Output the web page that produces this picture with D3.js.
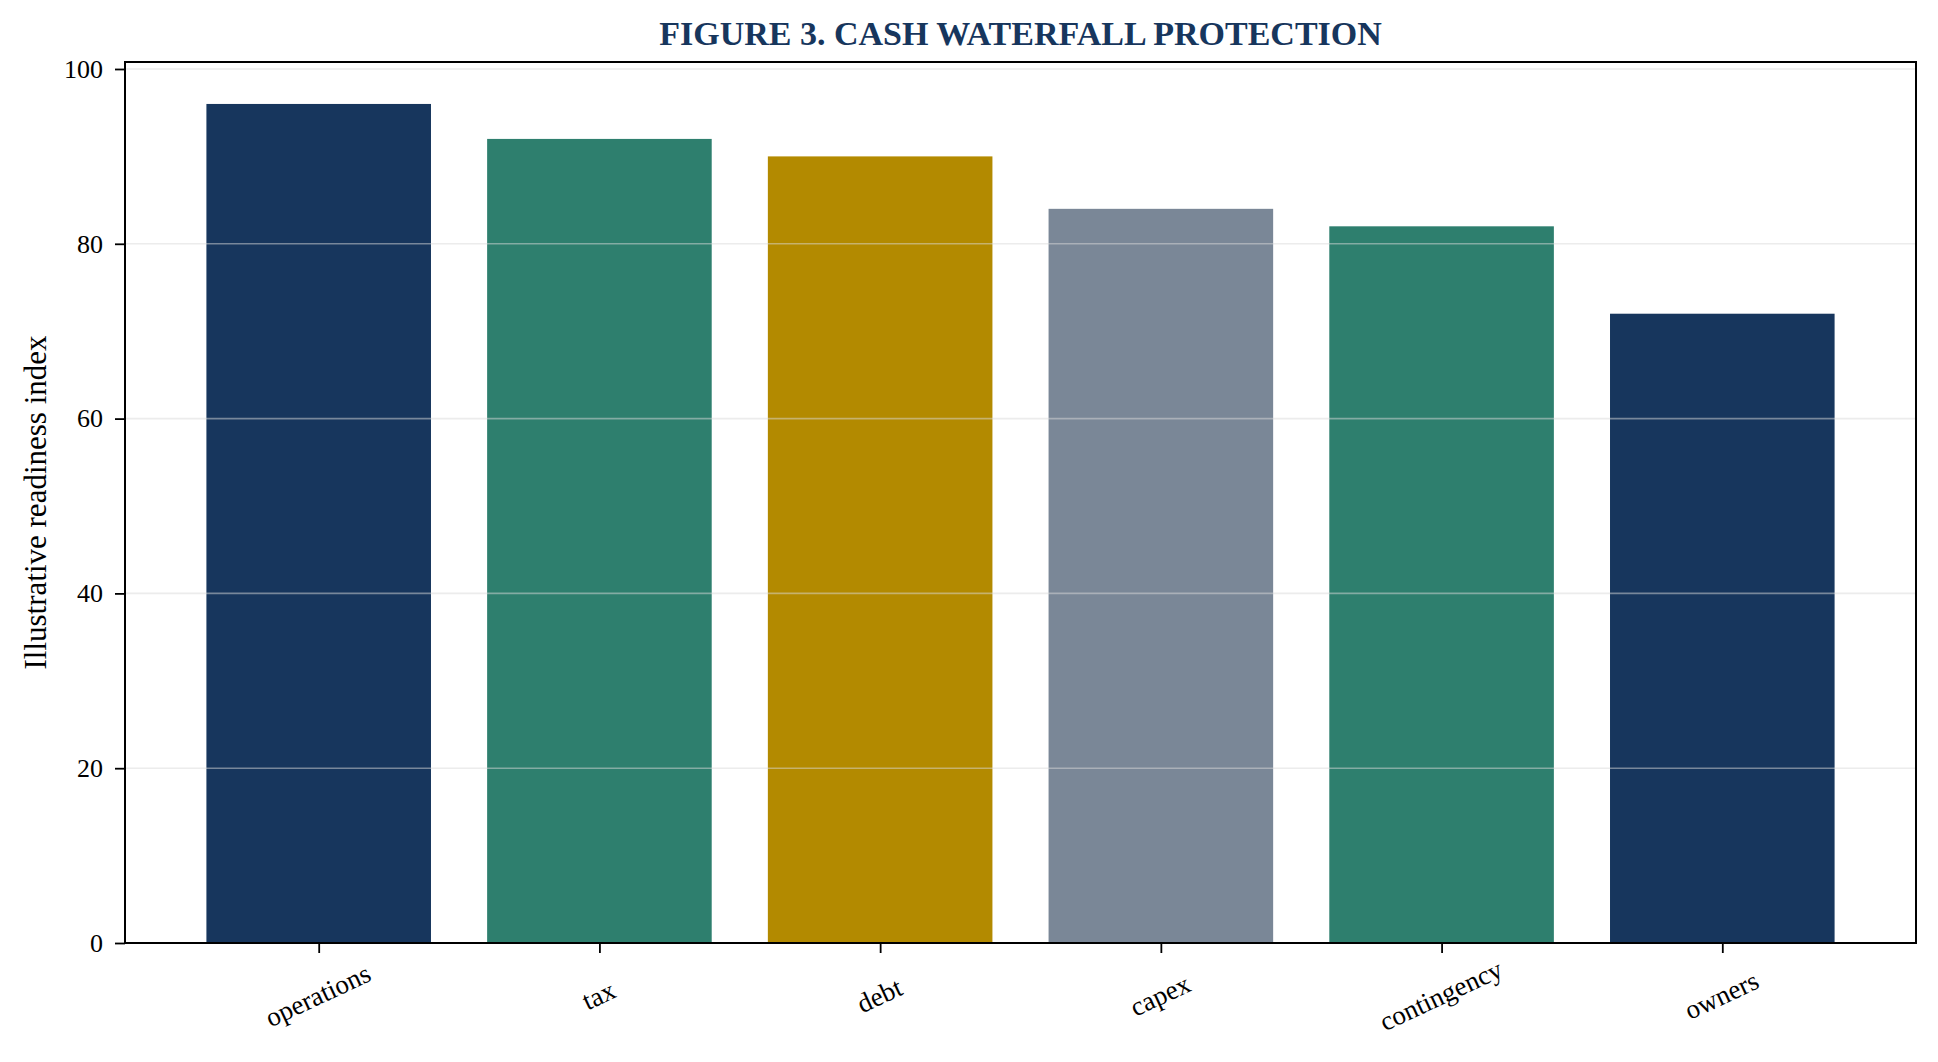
<!DOCTYPE html>
<html><head><meta charset="utf-8">
<script src="https://cdn.jsdelivr.net/npm/d3@7"></script>
<style>body{margin:0;background:#fff}svg{display:block}text{font-family:"Liberation Serif","Times New Roman",serif}</style>
</head><body><svg id="c" width="1938" height="1062"></svg>
<script>
const categories = ["operations","tax","debt","capex","contingency","owners"];
const values = [96,92,90,84,82,72];
const colors = ["#17365d","#2e7f6e","#b38a00","#7a8797","#2e7f6e","#17365d"];
const yTicks = [0,20,40,60,80,100];
const title = "FIGURE 3. CASH WATERFALL PROTECTION";
const yLabel = "Illustrative readiness index";

const svg = d3.select("#c");
const m = {l:125, r:1916, t:62, b:943};
const x = d3.scaleLinear().domain([-0.69, categories.length - 1 + 0.69]).range([m.l, m.r]);
const y = d3.scaleLinear().domain([0, 100.8]).range([m.b, m.t]);
const bw = x(0.8) - x(0);

svg.append("g").selectAll("rect").data(values).join("rect")
  .attr("x", (d,i)=>x(i - 0.4)).attr("width", bw)
  .attr("y", d=>y(d)).attr("height", d=>y(0)-y(d))
  .attr("fill", (d,i)=>colors[i]);

svg.append("g").selectAll("line").data(yTicks).join("line")
  .attr("x1", m.l).attr("x2", m.r).attr("y1", d=>y(d)).attr("y2", d=>y(d))
  .attr("stroke", "#d9d9d9").attr("stroke-opacity", 0.5).attr("stroke-width", 1.6);

const yAxis = svg.append("g").attr("transform", `translate(${m.l},0)`)
  .call(d3.axisLeft(y).tickValues(yTicks).tickSize(10).tickPadding(12));
yAxis.select(".domain").remove();
yAxis.selectAll("line").attr("stroke", "#000").attr("stroke-width", 1.8);
yAxis.selectAll("text").attr("font-size", 26).attr("fill", "#000").attr("font-family", "Liberation Serif");

const xAxis = svg.append("g").attr("transform", `translate(0,${m.b})`)
  .call(d3.axisBottom(x).tickValues(d3.range(categories.length)).tickFormat(i=>categories[i]).tickSize(10).tickPadding(8));
xAxis.select(".domain").remove();
xAxis.selectAll("line").attr("stroke", "#000").attr("stroke-width", 1.8);
xAxis.selectAll("text").attr("font-size", 27).attr("fill", "#000").attr("font-family", "Liberation Serif")
  .attr("text-anchor", "middle").attr("dy", null)
  .attr("transform", "translate(0,55) rotate(-25)").attr("y", 0).attr("dominant-baseline", "middle");

svg.append("rect").attr("x", m.l).attr("y", m.t).attr("width", m.r - m.l).attr("height", m.b - m.t)
  .attr("fill", "none").attr("stroke", "#000").attr("stroke-width", 2);

svg.append("text").attr("x", (m.l + m.r)/2).attr("y", 33).attr("text-anchor", "middle")
  .attr("dominant-baseline", "central").attr("font-size", 34).attr("font-weight", "bold")
  .attr("fill", "#17365d").text(title);

svg.append("text").attr("transform", `translate(35,${(m.t+m.b)/2}) rotate(-90)`)
  .attr("text-anchor", "middle").attr("dominant-baseline", "central")
  .attr("font-size", 31).attr("fill", "#000").text(yLabel);
</script></body></html>
